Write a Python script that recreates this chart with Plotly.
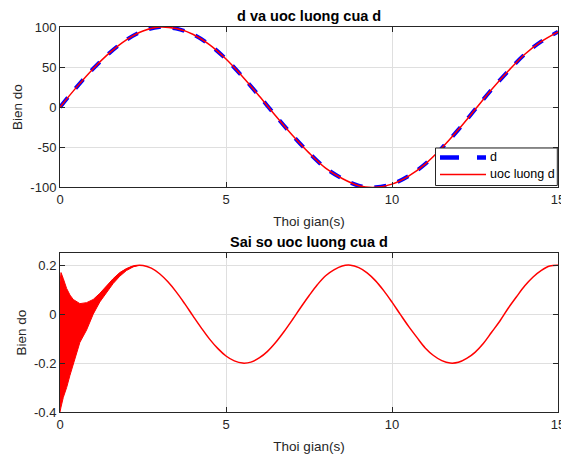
import plotly.graph_objects as go

# ---- data ----
t = [0, 0.5, 1, 1.5, 2, 2.5, 3, 3.5, 4, 4.5, 5, 5.5, 6, 6.5, 7, 7.5, 8, 8.5, 9, 9.5,
     10, 10.5, 11, 11.5, 12, 12.5, 13, 13.5, 14, 14.5, 15]
d = [0, 25, 48, 68, 84, 95, 100, 98, 91, 78, 60, 38, 14, -11, -35, -57, -76, -89, -98, -100,
     -96, -86, -71, -51, -28, -3, 22, 45, 66, 82, 94]
d_hat = [0, 25, 48, 68, 84, 95, 100, 98, 91, 78, 60, 38, 14, -11, -35, -57, -76, -89, -98, -100,
         -96, -86, -71, -51, -28, -3, 22, 45, 66, 82, 94]

t_err = [0, 0.25, 0.5, 0.75, 1, 1.25, 1.5, 1.75, 2, 2.25, 2.5, 2.75, 3, 3.25, 3.5, 3.75, 4, 4.25,
         4.5, 4.75, 5, 5.25, 5.5, 5.75, 6, 6.25, 6.5, 6.75, 7, 7.25, 7.5, 7.75, 8, 8.25, 8.5, 8.75,
         9, 9.25, 9.5, 9.75, 10, 10.25, 10.5, 10.75, 11, 11.25, 11.5, 11.75, 12, 12.25, 12.5, 12.75,
         13, 13.25, 13.5, 13.75, 14, 14.25, 14.5, 14.75, 15]
err = [-0.148, -0.110, -0.065, -0.016, 0.034, 0.082, 0.124, 0.159, 0.184, 0.198, 0.199, 0.188,
       0.165, 0.132, 0.091, 0.044, -0.006, -0.055, -0.101, -0.140, -0.171, -0.191, -0.200, -0.196,
       -0.179, -0.152, -0.115, -0.071, -0.023, 0.027, 0.075, 0.120, 0.157, 0.181, 0.197, 0.200,
       0.190, 0.169, 0.137, 0.096, 0.049, -0.001, -0.050, -0.095, -0.138, -0.169, -0.190, -0.200,
       -0.197, -0.181, -0.156, -0.120, -0.074, -0.028, 0.024, 0.071, 0.116, 0.152, 0.179, 0.197,
       0.200]

# envelope of the fast chattering at the start of the error signal
t_env = [0, 0.03, 0.1, 0.2, 0.3, 0.4, 0.6, 0.8, 1.0, 1.2, 1.4, 1.6, 1.8, 2.0, 2.2, 2.35]
err_upper = [0.13, 0.17, 0.145, 0.105, 0.078, 0.06, 0.043, 0.047, 0.06, 0.085, 0.115, 0.145,
             0.17, 0.186, 0.196, 0.199]
err_lower = [-0.40, -0.38, -0.34, -0.30, -0.25, -0.20, -0.115, -0.065, 0.0, 0.05, 0.09, 0.125,
             0.155, 0.178, 0.193, 0.199]

x_ticks = [0, 5, 10, 15]
x_ticktext = ["0", "5", "10", "15"]
y1_ticks = [-100, -50, 0, 50, 100]
y1_ticktext = ["-100", "-50", "0", "50", "100"]
y2_ticks = [-0.4, -0.2, 0, 0.2]
y2_ticktext = ["-0.4", "-0.2", "0", "0.2"]

legend_names = ["d", "uoc luong d"]

FONT = "Liberation Sans, Arial, sans-serif"
AX = "#262626"
GRID = "#dfdfdf"

fig = go.Figure()
fig.add_trace(go.Scatter(x=t, y=d, name=legend_names[0], mode="lines", showlegend=False,
                         line=dict(color="#0000ff", width=4, dash="dash", shape="spline"),
                         xaxis="x", yaxis="y"))
fig.add_trace(go.Scatter(x=t, y=d_hat, name=legend_names[1], mode="lines", showlegend=False,
                         line=dict(color="#ff0000", width=1.5, shape="spline"), xaxis="x", yaxis="y"))
fig.add_trace(go.Scatter(x=t_err, y=err, mode="lines", showlegend=False,
                         line=dict(color="#ff0000", width=1.5, shape="spline"), xaxis="x2", yaxis="y2"))
fig.add_trace(go.Scatter(x=t_env + t_env[::-1], y=err_upper + err_lower[::-1], mode="lines",
                         fill="toself", fillcolor="#ff0000", showlegend=False,
                         line=dict(color="#ff0000", width=1), xaxis="x2", yaxis="y2"))

axis_common = dict(showline=True, linecolor=AX, linewidth=1, mirror="ticks", ticks="inside",
                   ticklen=5, tickcolor=AX, showgrid=True, gridcolor=GRID, gridwidth=1,
                   zeroline=False, ticklabeloverflow="allow", automargin=False,
                   tickfont=dict(family=FONT, size=13, color=AX))

# ---- legend box drawn in paper coordinates (MATLAB-style compact legend) ----
PL, PW, PB, PH = 60, 498, 412, 385   # plot-area pixel geometry
def px(xp):
    return (xp - PL) / PW
def py(yp):
    return (PB - yp) / PH

shapes = [
    dict(type="rect", xref="paper", yref="paper", x0=px(435.5), x1=px(557.3), y0=py(185.5), y1=py(148),
         line=dict(color=AX, width=1), fillcolor="white", layer="above"),
    dict(type="line", xref="paper", yref="paper", x0=px(440), x1=px(486), y0=py(157.5), y1=py(157.5),
         line=dict(color="#0000ff", width=4.5, dash="19px,18px"), layer="above"),
    dict(type="line", xref="paper", yref="paper", x0=px(440), x1=px(486), y0=py(174.5), y1=py(174.5),
         line=dict(color="#ff0000", width=1.5), layer="above"),
]

annotations = [
    dict(text="<b>d va uoc luong cua d</b>", x=0.5, xref="paper", y=1, yref="paper",
         xanchor="center", yanchor="bottom", yshift=1, showarrow=False,
         font=dict(family=FONT, size=14.5, color="#000")),
    dict(text="<b>Sai so uoc luong cua d</b>", x=0.5, xref="paper", y=0.413, yref="paper",
         xanchor="center", yanchor="bottom", yshift=1, showarrow=False,
         font=dict(family=FONT, size=14.5, color="#000")),
    dict(text=legend_names[0], x=px(488), xref="paper", y=py(157.5), yref="paper",
         xanchor="left", yanchor="middle", showarrow=False,
         font=dict(family=FONT, size=12.5, color="#000")),
    dict(text=legend_names[1], x=px(488), xref="paper", y=py(174.5), yref="paper",
         xanchor="left", yanchor="middle", showarrow=False,
         font=dict(family=FONT, size=12.5, color="#000")),
]

fig.update_layout(
    width=561, height=455,
    margin=dict(l=60, r=3, t=27, b=43, autoexpand=False),
    paper_bgcolor="white", plot_bgcolor="white",
    font=dict(family=FONT, color=AX),
    showlegend=False,
    xaxis=dict(domain=[0, 1], anchor="y", range=[0, 15], tickvals=x_ticks, ticktext=x_ticktext,
               title=dict(text="Thoi gian(s)", font=dict(family=FONT, size=13.5, color=AX), standoff=10),
               **axis_common),
    yaxis=dict(domain=[0.5836, 1], anchor="x", range=[-100, 100], tickvals=y1_ticks, ticktext=y1_ticktext,
               title=dict(text="Bien do", font=dict(family=FONT, size=13.5, color=AX), standoff=4),
               **axis_common),
    xaxis2=dict(domain=[0, 1], anchor="y2", range=[0, 15], tickvals=x_ticks, ticktext=x_ticktext,
                title=dict(text="Thoi gian(s)", font=dict(family=FONT, size=13.5, color=AX), standoff=10),
                **axis_common),
    yaxis2=dict(domain=[0, 0.413], anchor="x2", range=[-0.4, 0.25], tickvals=y2_ticks, ticktext=y2_ticktext,
                title=dict(text="Bien do", font=dict(family=FONT, size=13.5, color=AX), standoff=4),
                **axis_common),
    shapes=shapes,
    annotations=annotations,
)

fig.write_html("out.html")
